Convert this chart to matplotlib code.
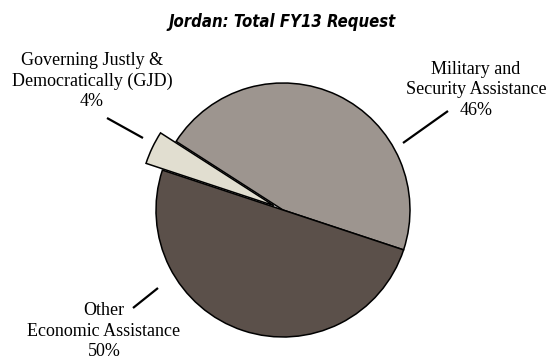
import matplotlib.pyplot as plt

labels = ["Military and\nSecurity Assistance", "Governing Justly &\nDemocratically (GJD)", "Other\nEconomic Assistance"]
shares = [46, 4, 50]
colors = ["#9d958f", "#e1ded0", "#5b504a"]
explode = [0, 0.08, 0]

# pie centre and radius in pixels, used to lay out the axes
W, H = 551, 360
CX, CY, R = 283, 210, 127


def px(x, y):
    return (x - CX) / R, (CY - y) / R


fig = plt.figure(figsize=(W / 100, H / 100), dpi=100)
ax = fig.add_axes([0, 0, 1, 1])

wedges, _ = ax.pie(shares, colors=colors, explode=explode, startangle=-18.3,
                   counterclock=True, radius=1,
                   wedgeprops=dict(edgecolor="black", linewidth=1.1))
wedges[1].set_radius(1.06)

ax.set_xlim(-CX / R, (W - CX) / R)
ax.set_ylim(-(H - CY) / R, CY / R)
ax.set_aspect("auto")
ax.axis("off")

label_font = dict(family="Liberation Serif", fontsize=13, ha="center", va="center",
                  linespacing=1.28)
label_pos = [(476, 90), (92, 81), (104, 331)]
leaders = [((403, 143), (448, 111)), ((143, 138), (107, 118)), ((133, 308), (158, 288))]

for lab, val, (lx, ly), (p0, p1) in zip(labels, shares, label_pos, leaders):
    ax.text(*px(lx, ly), f"{lab}\n{val}%", **label_font)
    (x0, y0), (x1, y1) = px(*p0), px(*p1)
    ax.plot([x0, x1], [y0, y1], color="black", linewidth=1.6, solid_capstyle="butt")

fig.text(282 / W, 1 - 22 / H, "Jordan: Total FY13 Request", ha="center", va="center",
         family="DejaVu Sans", fontstretch="condensed", fontweight="bold",
         fontstyle="italic", fontsize=12)

fig.savefig("out.png", dpi=100)
